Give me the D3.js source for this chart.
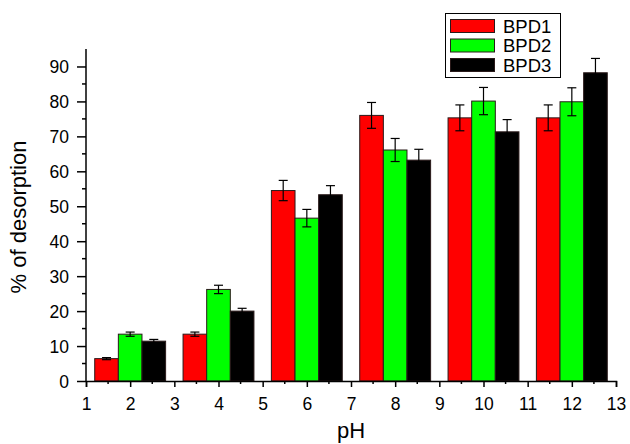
<!DOCTYPE html>
<html>
<head>
<meta charset="utf-8">
<script src="https://cdn.jsdelivr.net/npm/d3@7"></script>
<style>
  body { margin: 0; background: #fff; }
  text { font-family: Arial, "Liberation Sans", sans-serif; fill: #000; }
</style>
</head>
<body>
<script>
var width = 630, height = 444;

// data
var pH = [2, 4, 6, 8, 10, 12];
var seriesNames = ["BPD1", "BPD2", "BPD3"];
var seriesColors = ["#ff0000", "#00ff00", "#000000"];
var bpd1 = [6.4, 13.4, 54.5, 76.0, 75.3, 75.3];
var bpd2 = [13.4, 26.2, 46.6, 66.1, 80.1, 79.9];
var bpd3 = [11.4, 20.0, 53.3, 63.2, 71.3, 88.2];
var err1 = [0.3, 0.6, 2.9, 3.7, 3.7, 3.7];
var err2 = [0.6, 1.2, 2.5, 3.3, 3.9, 4.0];
var err3 = [0.5, 0.8, 2.6, 3.1, 3.5, 4.1];
var xTicks = [1, 2, 3, 4, 5, 6, 7, 8, 9, 10, 11, 12, 13];
var yTicks = [0, 10, 20, 30, 40, 50, 60, 70, 80, 90];

var values = [bpd1, bpd2, bpd3];
var errors = [err1, err2, err3];

var svg = d3.select("body").append("svg")
    .attr("width", width)
    .attr("height", height);

var x = d3.scaleLinear().domain([1, 13]).range([86, 616]);
var y = d3.scaleLinear().domain([0, 95]).range([381, 49]);

var barW = 0.535; // in pH units

var bars = [];
seriesNames.forEach(function (name, s) {
    pH.forEach(function (p, i) {
        bars.push({ s: s, x0: p - 1.5 * barW + s * barW, v: values[s][i], e: errors[s][i] });
    });
});

svg.append("g").selectAll("rect")
    .data(bars)
    .enter()
    .append("rect")
    .attr("x", function (d) { return x(d.x0); })
    .attr("width", function (d) { return x(d.x0 + barW) - x(d.x0); })
    .attr("y", function (d) { return y(d.v); })
    .attr("height", function (d) { return y(0) - y(d.v); })
    .attr("fill", function (d) { return seriesColors[d.s]; })
    .attr("stroke", "#2a1a1a")
    .attr("stroke-width", 1);

// error bars
var eb = svg.append("g").attr("stroke", "#000").attr("stroke-width", 1.2);
bars.forEach(function (d) {
    var cx = x(d.x0 + barW / 2);
    eb.append("line").attr("x1", cx).attr("x2", cx).attr("y1", y(d.v + d.e)).attr("y2", y(d.v - d.e));
    eb.append("line").attr("x1", cx - 4.5).attr("x2", cx + 4.5).attr("y1", y(d.v + d.e)).attr("y2", y(d.v + d.e));
    eb.append("line").attr("x1", cx - 4.5).attr("x2", cx + 4.5).attr("y1", y(d.v - d.e)).attr("y2", y(d.v - d.e));
});

// x axis
var xAxis = svg.append("g")
    .attr("transform", "translate(0," + y(0) + ")")
    .call(d3.axisBottom(x).tickValues(xTicks).tickFormat(d3.format("d")).tickSizeOuter(0).tickSize(6));
xAxis.select(".domain").attr("stroke-width", 1.5);
xAxis.selectAll(".tick line").attr("stroke-width", 1.5);
xAxis.selectAll("text").attr("font-size", 17.5).attr("dy", 0).attr("y", 28.5);
xAxis.append("g").selectAll("line")
    .data(d3.range(1.5, 13, 1))
    .enter().append("line")
    .attr("x1", function (d) { return x(d); }).attr("x2", function (d) { return x(d); })
    .attr("y1", 0).attr("y2", 3)
    .attr("stroke", "#000").attr("stroke-width", 1.5);

// y axis
var yAxis = svg.append("g")
    .attr("transform", "translate(" + x(1) + ",0)")
    .call(d3.axisLeft(y).tickValues(yTicks).tickSizeOuter(0).tickSize(9));
yAxis.select(".domain").attr("d", "M0," + y(95) + "V" + y(0)).attr("stroke-width", 1.5);
yAxis.selectAll(".tick line").attr("stroke-width", 1.5);
yAxis.selectAll("text").attr("font-size", 17.5).attr("x", -17).attr("dy", "0.36em");
yAxis.append("g").selectAll("line")
    .data(d3.range(5, 95, 10))
    .enter().append("line")
    .attr("x1", -4).attr("x2", 0)
    .attr("y1", function (d) { return y(d); }).attr("y2", function (d) { return y(d); })
    .attr("stroke", "#000").attr("stroke-width", 1.5);

// axis titles
svg.append("text")
    .attr("transform", "translate(26,217) rotate(-90)")
    .attr("text-anchor", "middle")
    .attr("font-size", 22)
    .text("% of desorption");

svg.append("text")
    .attr("x", 351).attr("y", 438)
    .attr("text-anchor", "middle")
    .attr("font-size", 22)
    .text("pH");

// legend
var legend = svg.append("g");
legend.append("rect")
    .attr("x", 445.5).attr("y", 13.5).attr("width", 115).attr("height", 64)
    .attr("fill", "#fff").attr("stroke", "#000").attr("stroke-width", 1);
seriesNames.forEach(function (name, i) {
    legend.append("rect")
        .attr("x", 450.5).attr("y", 19.5 + i * 19.5).attr("width", 44).attr("height", 13)
        .attr("fill", seriesColors[i]).attr("stroke", "#2a1a1a");
    legend.append("text")
        .attr("x", 503).attr("y", 32.5 + i * 19.5)
        .attr("font-size", 18.5)
        .text(name);
});
</script>
</body>
</html>
